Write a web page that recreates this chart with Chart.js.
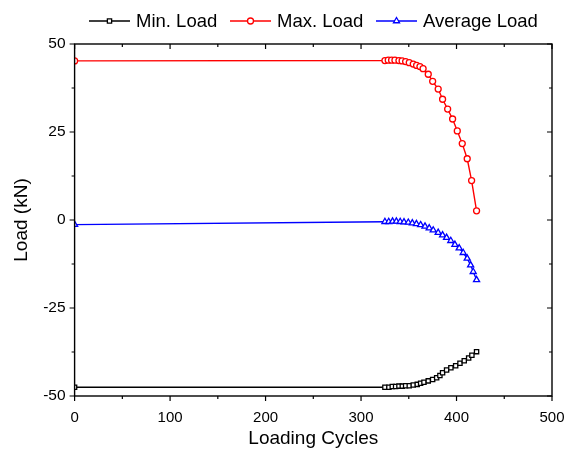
<!DOCTYPE html>
<html>
<head>
<meta charset="utf-8">
<script src="https://cdn.jsdelivr.net/npm/chart.js@4.4.1/dist/chart.umd.min.js"></script>
<style>
  html, body { margin: 0; padding: 0; background: #fff; }
  #wrap { width: 565px; height: 457px; }
</style>
</head>
<body>
<div id="wrap"><canvas id="loadChart" width="565" height="457"></canvas></div>
<script>
// values
const minCycles = [0, 325, 329.2, 332.7, 336.2, 339.7, 343.2, 346.7, 350.5, 354.7, 358.9, 362.4, 365.9, 370.4, 375, 379.2, 382.6, 385.4, 389.6, 394.1, 399.1, 403.6, 408.1, 412.7, 416.1, 421];
const minLoad = [-47.5, -47.5, -47.5, -47.3, -47.3, -47.2, -47.2, -47.1, -47.1, -46.9, -46.7, -46.4, -46.1, -45.7, -45.3, -44.8, -44.2, -43.4, -42.6, -42.0, -41.4, -40.7, -40.0, -39.2, -38.4, -37.4];

const maxCycles = [0, 325, 328.5, 332, 335.5, 339.7, 343, 346.7, 350.5, 354.7, 358.2, 361.7, 365, 370.4, 375, 380.8, 385.4, 390.7, 395.9, 400.8, 406, 411.2, 415.8, 421];
const maxLoad = [45.2, 45.3, 45.4, 45.4, 45.4, 45.3, 45.2, 45.0, 44.7, 44.3, 43.9, 43.6, 43.0, 41.4, 39.4, 37.2, 34.3, 31.5, 28.7, 25.3, 21.7, 17.4, 11.2, 2.6];

const avgCycles = [0, 325, 329, 333, 337, 341, 345, 349.5, 353.7, 358, 362.4, 367, 371.4, 375.6, 380.8, 385.4, 389.6, 394, 398.3, 402.8, 407, 411.2, 414.8, 417.5, 421];
const avgLoad = [-1.3, -0.5, -0.5, -0.4, -0.4, -0.5, -0.6, -0.7, -0.9, -1.1, -1.4, -1.8, -2.3, -2.9, -3.6, -4.3, -5.0, -5.9, -7.0, -8.0, -9.3, -10.9, -12.8, -14.7, -17.0];

const xTicks = [0, 100, 200, 300, 400, 500];
const yTicks = [-50, -25, 0, 25, 50];

const seriesNames = ['Min. Load', 'Max. Load', 'Average Load'];
const seriesColors = ['#000000', '#ff0000', '#0000ff'];
const seriesMarkers = ['rect', 'circle', 'triangle'];

const FONT = '"Liberation Sans", Arial, sans-serif';

function toPoints(xs, ys) {
    return xs.map((x, i) => ({ x: x, y: ys[i] }));
}

function makeSet(i, xs, ys) {
    return {
        label: seriesNames[i],
        data: toPoints(xs, ys),
        showLine: true,
        borderColor: seriesColors[i],
        backgroundColor: '#ffffff',
        borderWidth: 1.4,
        pointStyle: seriesMarkers[i],
        pointRadius: i === 2 ? 3.5 : 3,
        pointBorderWidth: 1.3,
        pointBorderColor: seriesColors[i],
        pointBackgroundColor: '#ffffff',
        tension: 0
    };
}

// frame, tick marks, titles and legend in the Origin style
const framePlugin = {
    id: 'frame',
    afterDraw(chart) {
        const ctx = chart.ctx;
        const a = chart.chartArea;
        const xs = chart.scales.x;
        const ys = chart.scales.y;
        ctx.save();
        ctx.strokeStyle = '#000';
        ctx.lineWidth = 1.4;
        ctx.strokeRect(a.left, a.top, a.right - a.left, a.bottom - a.top);

        ctx.lineWidth = 1.2;
        ctx.beginPath();
        for (let v = 0; v <= 500; v += 50) {
            const p = xs.getPixelForValue(v);
            const len = v % 100 === 0 ? 5 : 3;
            ctx.moveTo(p, a.bottom); ctx.lineTo(p, a.bottom + len);
            ctx.moveTo(p, a.top); ctx.lineTo(p, a.top + len);
        }
        for (let v = -50; v <= 50; v += 12.5) {
            const p = ys.getPixelForValue(v);
            const len = v % 25 === 0 ? 5 : 3;
            ctx.moveTo(a.left, p); ctx.lineTo(a.left - len, p);
            ctx.moveTo(a.right, p); ctx.lineTo(a.right - len, p);
        }
        ctx.stroke();

        // axis titles
        ctx.fillStyle = '#000';
        ctx.font = '19px ' + FONT;
        ctx.textAlign = 'center';
        ctx.textBaseline = 'middle';
        ctx.fillText('Loading Cycles', (a.left + a.right) / 2, 439);
        ctx.save();
        ctx.translate(22, (a.top + a.bottom) / 2);
        ctx.rotate(-Math.PI / 2);
        ctx.fillText('Load (kN)', 0, 0);
        ctx.restore();

        // legend
        const legendX = [89, 230, 376];
        const ly = 21;
        ctx.font = '18.5px ' + FONT;
        ctx.textAlign = 'left';
        chart.data.datasets.forEach((ds, i) => {
            const x0 = legendX[i];
            ctx.strokeStyle = ds.borderColor;
            ctx.lineWidth = 1.6;
            ctx.beginPath();
            ctx.moveTo(x0, ly); ctx.lineTo(x0 + 41, ly);
            ctx.stroke();
            ctx.fillStyle = '#ffffff';
            ctx.lineWidth = 1.3;
            Chart.helpers.drawPoint(ctx, {
                pointStyle: ds.pointStyle,
                radius: ds.pointRadius,
                borderWidth: 1.3
            }, x0 + 20.5, ly);
            ctx.fillStyle = '#000';
            ctx.fillText(ds.label, x0 + 47, ly + 1);
        });
        ctx.restore();
    }
};

new Chart(document.getElementById('loadChart'), {
    type: 'scatter',
    data: {
        datasets: [
            makeSet(0, minCycles, minLoad),
            makeSet(1, maxCycles, maxLoad),
            makeSet(2, avgCycles, avgLoad)
        ]
    },
    options: {
        responsive: false,
        animation: false,
        devicePixelRatio: 1,
        layout: { padding: { top: 44, right: 13, left: 0, bottom: 0 } },
        plugins: {
            legend: { display: false },
            tooltip: { enabled: false }
        },
        scales: {
            x: {
                type: 'linear',
                min: 0,
                max: 500,
                grid: { display: false },
                border: { display: false },
                afterBuildTicks: s => { s.ticks = xTicks.map(v => ({ value: v })); },
                afterFit: s => { s.height = 61; s.paddingRight = 0; s.paddingLeft = 0; },
                ticks: {
                    color: '#000',
                    font: { family: FONT, size: 15 },
                    padding: 5,
                    maxRotation: 0
                }
            },
            y: {
                type: 'linear',
                min: -50,
                max: 50,
                grid: { display: false },
                border: { display: false },
                afterBuildTicks: s => { s.ticks = yTicks.map(v => ({ value: v })); },
                afterFit: s => { s.width = 74.6; s.paddingTop = 0; s.paddingBottom = 0; },
                ticks: {
                    color: '#000',
                    font: { family: FONT, size: 15.5 },
                    padding: 1
                }
            }
        }
    },
    plugins: [framePlugin]
});
</script>
</body>
</html>
